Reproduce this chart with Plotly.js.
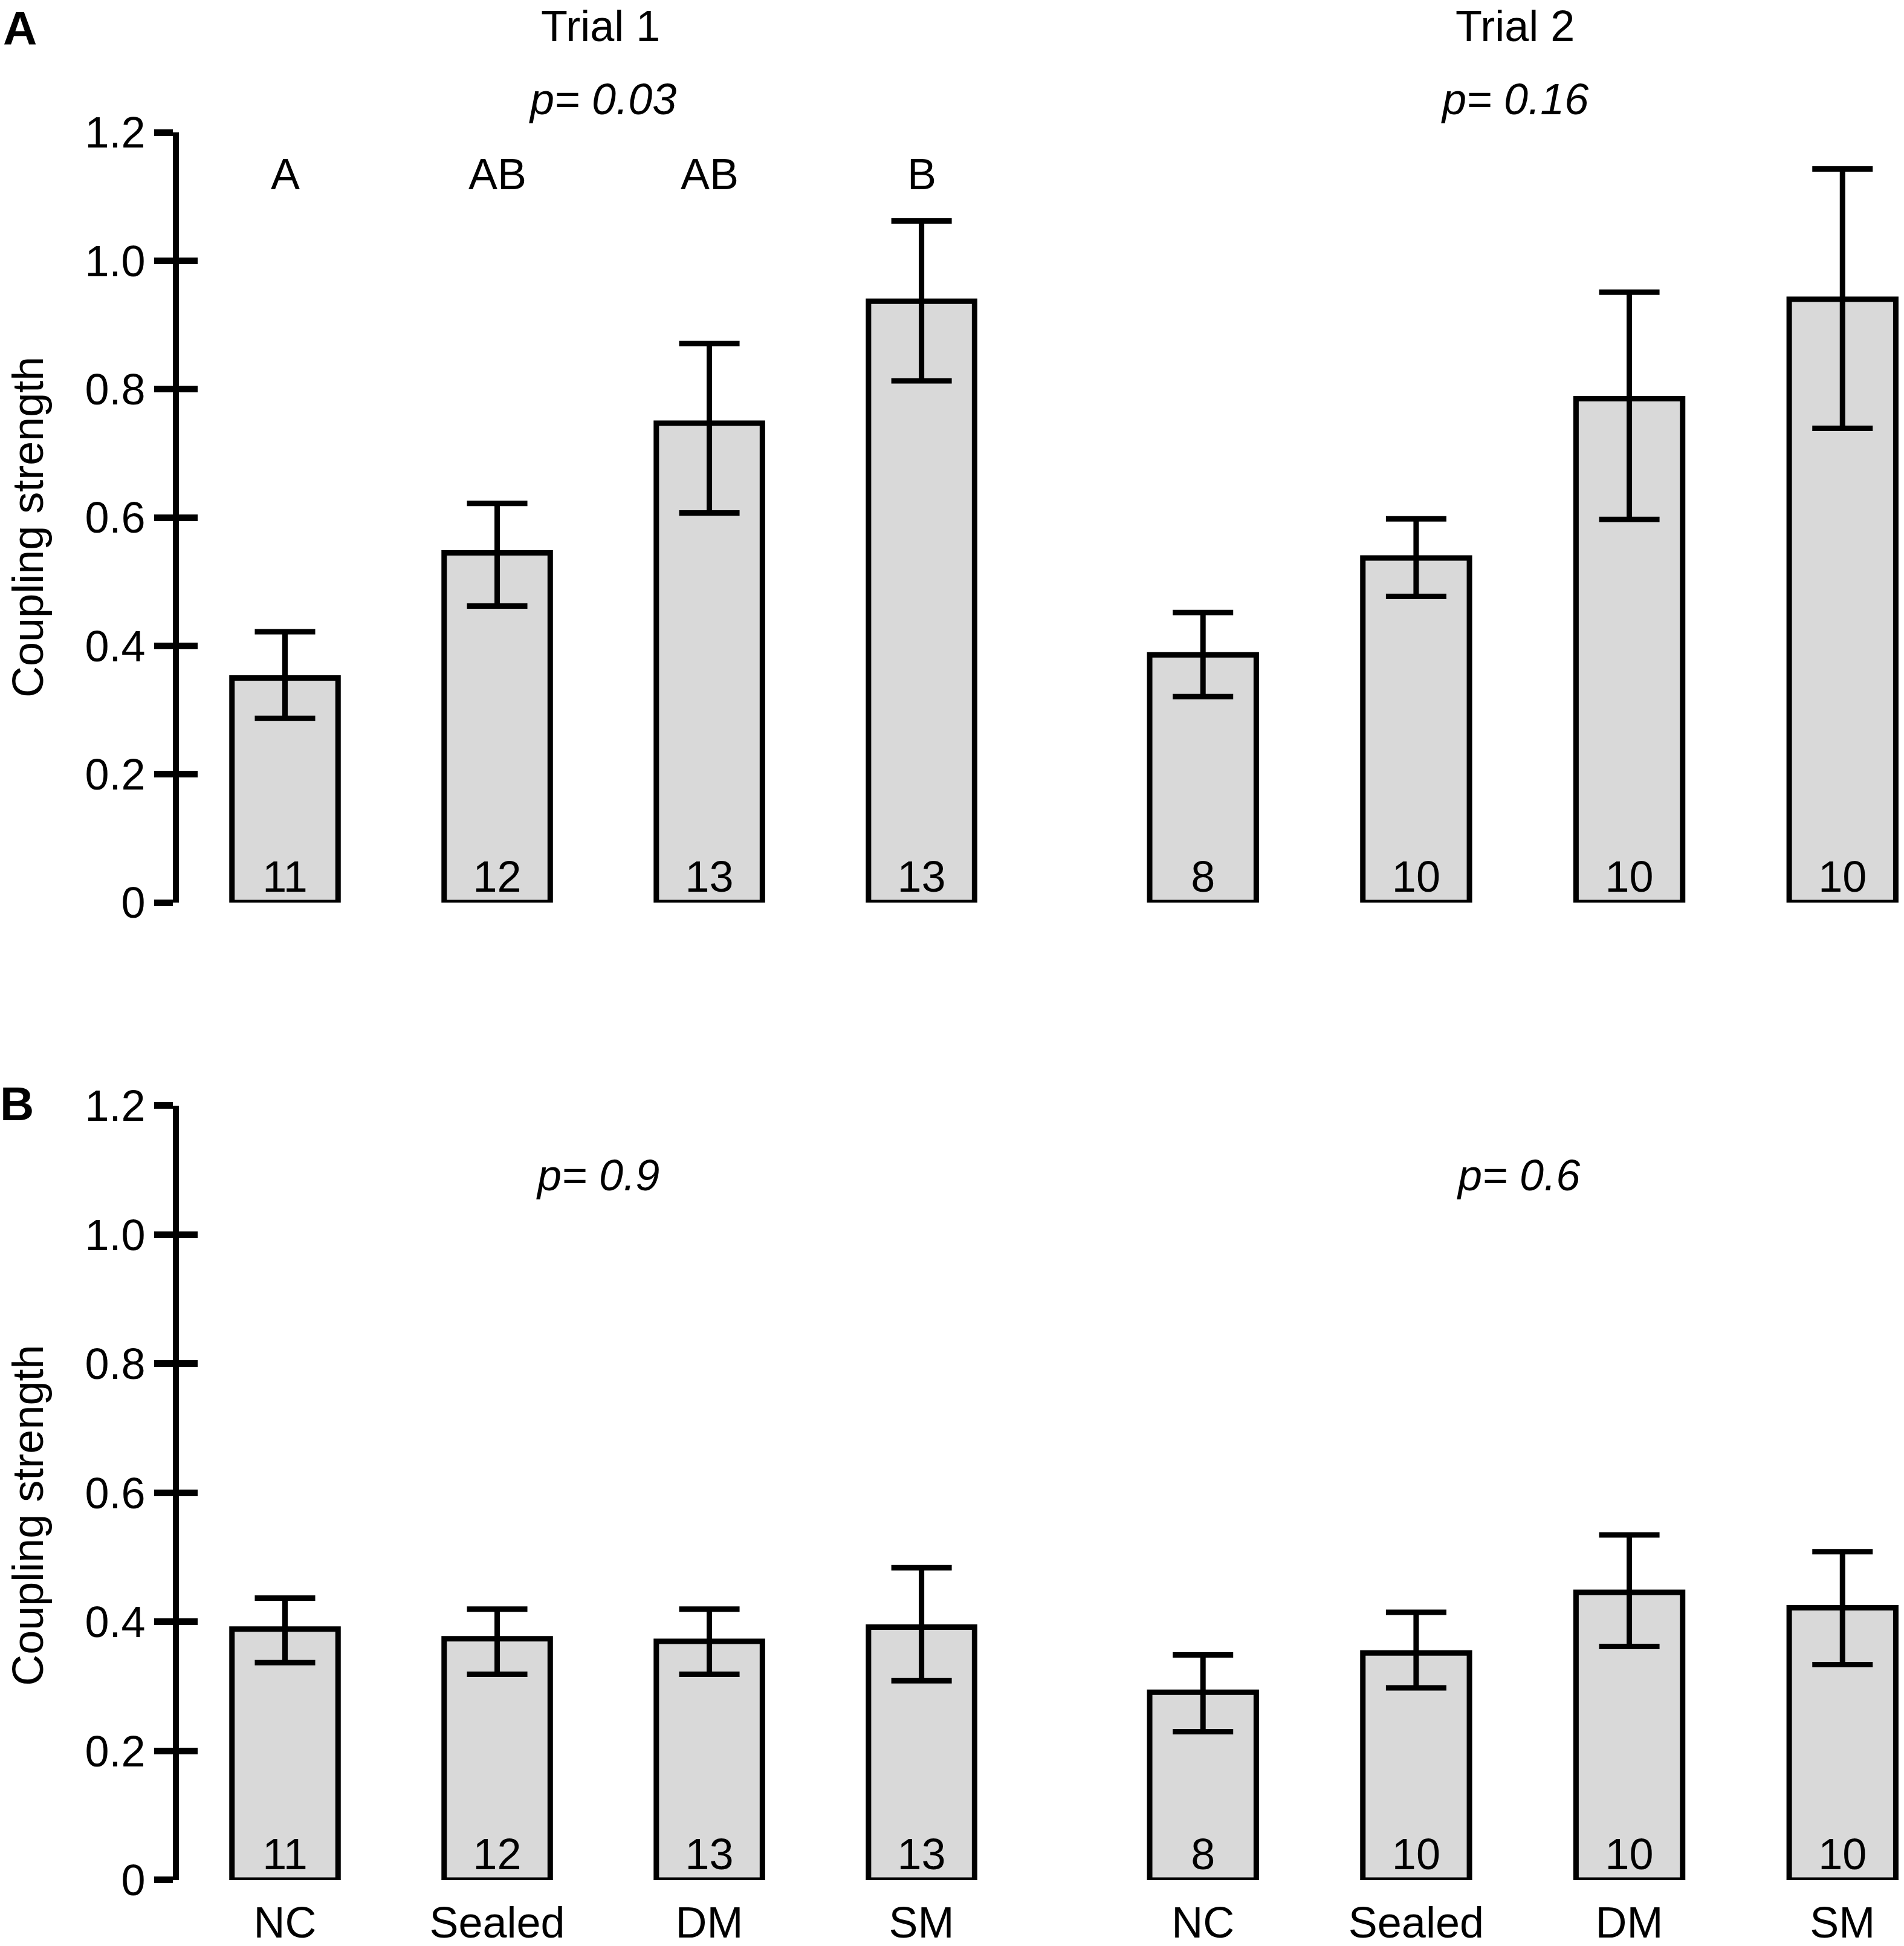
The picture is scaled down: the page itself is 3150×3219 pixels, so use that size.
<!DOCTYPE html>
<html>
<head>
<meta charset="utf-8">
<script src="https://cdn.plot.ly/plotly-3.0.1.min.js"></script>
<style>
  html, body { margin: 0; padding: 0; background: #fff; }
  #plot { width: 3150px; height: 3219px; }
</style>
</head>
<body>
<div id="plot"></div>
<script>
const GROUPS = ['NC', 'Sealed', 'DM', 'SM'];
const Y_TICKS = [0, 0.2, 0.4, 0.6, 0.8, 1.0, 1.2];
const Y_TICK_TEXT = ['0', '0.2', '0.4', '0.6', '0.8', '1.0', '1.2'];

// panel A: coupling strength, trial 1 and trial 2
const A_TRIAL1 = [0.35, 0.545, 0.747, 0.937];
const A_TRIAL1_UP = [0.072, 0.077, 0.124, 0.125];
const A_TRIAL1_DOWN = [0.063, 0.083, 0.140, 0.124];
const A_TRIAL2 = [0.386, 0.537, 0.785, 0.94];
const A_TRIAL2_UP = [0.066, 0.061, 0.166, 0.203];
const A_TRIAL2_DOWN = [0.065, 0.060, 0.188, 0.201];
const A_LETTERS = ['A', 'AB', 'AB', 'B'];

// panel B
const B_TRIAL1 = [0.389, 0.374, 0.37, 0.392];
const B_TRIAL1_UP = [0.048, 0.046, 0.050, 0.092];
const B_TRIAL1_DOWN = [0.052, 0.055, 0.051, 0.083];
const B_TRIAL2 = [0.291, 0.352, 0.446, 0.422];
const B_TRIAL2_UP = [0.058, 0.063, 0.089, 0.087];
const B_TRIAL2_DOWN = [0.061, 0.054, 0.084, 0.088];

const N_TRIAL1 = ['11', '12', '13', '13'];
const N_TRIAL2 = ['8', '10', '10', '10'];

const P_VALUES = ['p= 0.03', 'p= 0.16', 'p= 0.9', 'p= 0.6'];
const TRIALS = ['Trial 1', 'Trial 2'];

const FONT = 'Liberation Sans, Arial, sans-serif';
const FS = 72;
const BAR_FILL = '#d9d9d9';

function barTrace(y, up, down, labels, xa, ya) {
  return {
    type: 'bar', x: GROUPS, y: y, xaxis: xa, yaxis: ya,
    width: 0.5,
    marker: {color: BAR_FILL, line: {color: '#000', width: 9}},
    error_y: {type: 'data', symmetric: false, array: up, arrayminus: down,
              color: '#000', thickness: 9, width: 50},
    text: labels, textposition: 'inside', insidetextanchor: 'start', textangle: 0,
    insidetextfont: {family: FONT, size: FS, color: '#000'},
    hoverinfo: 'skip', showlegend: false
  };
}

function dummy(xa, ya) {
  return {type: 'scatter', x: [], y: [], xaxis: xa, yaxis: ya, hoverinfo: 'skip', showlegend: false};
}

const data = [
  barTrace(A_TRIAL1, A_TRIAL1_UP, A_TRIAL1_DOWN, N_TRIAL1, 'x', 'y'),
  barTrace(A_TRIAL2, A_TRIAL2_UP, A_TRIAL2_DOWN, N_TRIAL2, 'x2', 'y'),
  barTrace(B_TRIAL1, B_TRIAL1_UP, B_TRIAL1_DOWN, N_TRIAL1, 'x3', 'y2'),
  barTrace(B_TRIAL2, B_TRIAL2_UP, B_TRIAL2_DOWN, N_TRIAL2, 'x4', 'y2'),
  dummy('x', 'y3'),
  dummy('x3', 'y4')
];

const D1 = [0, 0.4925];
const D2 = [0.5324, 1];

function xAxis(domain, range, anchor, labels) {
  return {
    domain: domain, range: range, anchor: anchor,
    type: 'category', categoryarray: GROUPS, categoryorder: 'array',
    showline: false, showgrid: false, zeroline: false, ticks: '',
    showticklabels: labels, tickfont: {family: FONT, size: FS, color: '#000'},
    ticklabelstandoff: 22, fixedrange: true
  };
}

function yAxis(domain, anchor) {
  return {
    domain: domain, anchor: anchor, range: [0, 1.2],
    showline: true, linecolor: '#000', linewidth: 10,
    ticks: 'outside', ticklen: 31, tickwidth: 11, tickcolor: '#000',
    tickmode: 'array', tickvals: Y_TICKS, ticktext: Y_TICK_TEXT,
    tickfont: {family: FONT, size: FS, color: '#000'},
    showgrid: false, zeroline: false, fixedrange: true
  };
}

// second axis on top of the first, only to draw the inner half of the cross ticks
function innerTicks(over, anchor) {
  return {
    overlaying: over, anchor: anchor, side: 'left', range: [0, 1.2],
    showline: false, ticks: 'inside', ticklen: 31, tickwidth: 11, tickcolor: '#000',
    tickmode: 'array', tickvals: Y_TICKS, showticklabels: false,
    showgrid: false, zeroline: false, fixedrange: true
  };
}

const annotations = [];
function note(text, x, y, opts) {
  annotations.push(Object.assign({
    text: text, x: x, y: y, xref: 'paper', yref: 'paper',
    xanchor: 'center', yanchor: 'middle', showarrow: false, borderpad: 0,
    font: {family: FONT, size: FS, color: '#000'}
  }, opts || {}));
}

const TOP = 1.0750;
note('<b>A</b>', -0.0922, TOP, {yanchor: 'top', font: {family: FONT, size: 78, color: '#000'}});
note('<b>B</b>', -0.0940, 0.4441, {font: {family: FONT, size: 78, color: '#000'}});
note(TRIALS[0], 0.2445, TOP, {yanchor: 'top'});
note(TRIALS[1], 0.7752, TOP, {yanchor: 'top'});
note('<i>' + P_VALUES[0] + '</i>', 0.2459, 1.0190);
note('<i>' + P_VALUES[1] + '</i>', 0.7752, 1.0190);
note('<i>' + P_VALUES[2] + '</i>', 0.2431, 0.4033);
note('<i>' + P_VALUES[3] + '</i>', 0.7773, 0.4033);
note('Coupling strength', -0.1021, 0.7741, {textangle: -90, xanchor: 'left'});
note('Coupling strength', -0.1021, 0.2086, {textangle: -90, xanchor: 'left'});
A_LETTERS.forEach(function (t, i) {
  note(t, GROUPS[i], 1.135, {xref: 'x', yref: 'y'});
});

const layout = {
  width: 3150, height: 3219,
  margin: {l: 296, r: 3, t: 219, b: 109},
  paper_bgcolor: '#fff', plot_bgcolor: 'rgba(0,0,0,0)',
  showlegend: false,
  font: {family: FONT, size: FS, color: '#000'},
  xaxis: xAxis(D1, [-0.5, 3.5], 'y', false),
  xaxis2: xAxis(D2, [-0.5, 3.28], 'y', false),
  xaxis3: xAxis(D1, [-0.5, 3.5], 'y2', true),
  xaxis4: xAxis(D2, [-0.5, 3.28], 'y2', true),
  yaxis: yAxis([0.5593, 1], 'x'),
  yaxis2: yAxis([0, 0.4431], 'x3'),
  yaxis3: innerTicks('y', 'x'),
  yaxis4: innerTicks('y2', 'x3'),
  annotations: annotations
};

Plotly.newPlot('plot', data, layout, {staticPlot: true, displayModeBar: false});
</script>
</body>
</html>
